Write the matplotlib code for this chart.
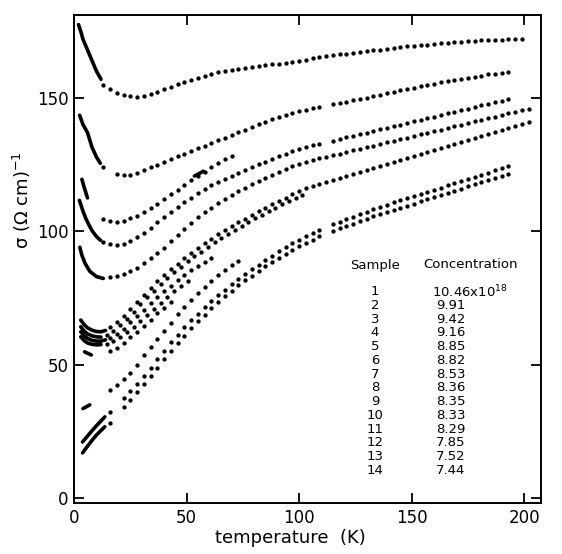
import numpy as np
import matplotlib.pyplot as plt

# Temperaturgitter der Messpunkte (K)
T_GRID = [13, 16, 19, 22, 25, 28, 31, 34, 37, 40, 43, 46, 49, 52, 55, 58, 61, 64, 67, 70,
          73, 76, 79, 82, 85, 88, 91, 94, 97, 100, 103, 106, 109, 112, 115, 118, 121, 124,
          127, 130, 133, 136, 139, 142, 145, 148, 151, 154, 157, 160, 163, 166, 169, 172,
          175, 178, 181, 184, 187, 190, 193, 196, 199, 202]
T_HALF = [14.5, 17.5, 20.5, 23.5, 26.5, 29.5, 32.5, 35.5, 38.5, 41.5, 44.5, 47.5, 50.5,
          53.5, 56.5, 59.5, 62.5, 65.5, 68.5, 71.5, 74.5, 77.5, 80.5, 83.5, 86.5, 89.5,
          92.5, 95.5, 98.5, 101.5]

# Probe 1
s1_lo_T = [2, 3, 4, 6, 8, 10, 12]
s1_lo = [177.5, 175, 172, 168, 164, 160, 157]
s1 = [155, 153.3, 152, 151.2, 150.7, 150.5, 150.7, 151.3, 152.2, 153.2, 154.2, 155.2, 156,
      156.8, 157.6, 158.3, 159, 159.6, 160.1, 160.6, 161, 161.4, 161.7, 162, 162.3, 162.6,
      162.9, 163.2, 163.6, 164, 164.4, 164.8, 165.2, 165.6, 166, 166.3, 166.6, 166.9, 167.2,
      167.5, 167.8, 168.1, 168.4, 168.7, 169, 169.3, 169.6, 169.8, 170, 170.3, 170.5, 170.7,
      170.9, 171.1, 171.3, 171.5, 171.6, 171.7, 171.8, 171.9, 172, 172.1, 172.2]
# Probe 2
s2_lo_T = [2.5, 4, 6, 8, 10, 11.7]
s2_lo = [143.5, 140, 137, 131.5, 127.8, 125.5]
s2 = [124, None, 121.5, 121, 121.2, 122, 123, 124, 125, 126,
      127.1, 128.1, 129.1, 130.1, 131.1, 132.1, 133.1, 134.1, 135.1, 136.1,
      137.1, 138.1, 139.1, 140.1, 141.1, 142, 142.9, 143.7, 144.4, 145,
      145.6, 146.1, 146.6, None, 147.6, 148.1, 148.6, 149.1, 149.6, 150.1,
      150.6, 151.2, 151.7, 152.3, 152.8, 153.3, 153.8, 154.3, 154.8, 155.3,
      155.8, 156.3, 156.8, 157.2, 157.6, 158, 158.4, 158.8, 159.1, 159.4, 159.7]
# Probe 3
s3_lo_T = [3.5, 4.5, 6]
s3_lo = [119.5, 116.5, 112.5]
s3_dash_T = [53.5, 55.5, 57.5]
s3_dash = [120.7, 121.6, 122.5]
s3 = [104.5, 103.7, 103.5, 104, 104.8, 105.9, 107.2, 108.7, 110.3, 112,
      113.8, 115.6, 117.4, 119.1, 120.8, 122.4, 124, 125.5, 127, 128.4]
# Probe 4
s4_lo_T = [2.4, 4, 5.3, 7, 8.2, 10, 11.8]
s4_lo = [111.6, 107.5, 104.7, 101.8, 100, 98, 96.6]
s4 = [96, 95.2, 94.9, 95.3, 96.3, 97.8, 99.5, 101.3, 103.3, 105.5,
      107.4, 109.2, 110.8, 112.6, 114.3, 115.8, 117.2, 118.5, 119.7, 120.9,
      122, 123.1, 124.1, 125.1, 126.1, 127.1, 128.1, 129.1, 130, 130.9,
      131.6, 132.2, 132.8, None, 134, 134.6, 135.2, 135.8, 136.4, 137,
      137.6, 138.2, 138.8, 139.4, 140, 140.6, 141.2, 141.8, 142.4, 143,
      143.6, 144.2, 144.8, 145.4, 146, 146.6, 147.2, 147.8, 148.4, 149, 149.5]
# Probe 5
s5_lo_T = [2.6, 3.5, 4.9, 7, 10, 13]
s5_lo = [94, 91, 88, 85, 83, 82.3]
s5 = [82.7, 83.3, 84.1, 85.1, 86.4, 88, 89.8, 91.7, 93.8, 96.2,
      98.6, 100.9, 103.1, 105.2, 107.1, 108.9, 110.6, 112.2, 113.7, 115.1,
      116.4, 117.6, 118.8, 120, 121.1, 122.2, 123.3, 124.4, 125.4, 126.1,
      126.7, 127.3, 127.9, 128.5, 129.1, 129.7, 130.3, 130.9, 131.5, 132.1,
      132.7, 133.3, 133.9, 134.5, 135.1, 135.7, 136.3, 136.9, 137.5, 138.1,
      138.8, 139.4, 140, 140.6, 141.2, 141.8, 142.4, 143, 143.6, 144.2,
      144.8, 145.4, 146]
# Probe 6
s6_lo_T = [3, 4.5, 6, 8, 10, 12, 14]
s6_lo = [66.7, 65, 63.8, 62.9, 62.4, 62.3, 62.8]
s6 = [64, 65.8, 68.2, 70.8, 73.5, 76.2, 78.7, 81.2, 83.5, 85.8,
      87.9, 90, 91.9, 93.8, 95.5, 97.2, 98.8, 100.3, 101.8, 103.3,
      104.7, 106.1, 107.5, 108.8, 110.1, 111.4, 112.6, 113.8, 115, 116.1,
      117, 117.7, 118.4, 119.2, 119.9, 120.7, 121.4, 122.2, 122.9, 123.7,
      124.4, 125.2, 125.9, 126.7, 127.4, 128.2, 128.9, 129.7, 130.4, 131.2,
      131.9, 132.7, 133.4, 134.1, 134.9, 135.6, 136.4, 137.1, 137.9, 138.6,
      139.4, 140.1, 140.8]
# Probe 7
s7_lo_T = [3, 4.5, 6, 8, 10, 12]
s7_lo = [64.2, 62.6, 61.5, 60.8, 60.4, 60.3]
s7 = [61, 62.6, 64.7, 67.2, 69.9, 72.6, 75.2, 77.7, 80.1, 82.4, 84.6, 86.7, 88.7, 90.6,
      92.4, 94.1, 95.8, 97.4, 99, 100.5, 102, 103.4, 104.8, 106.2, 107.5, 108.8, 110.1,
      111.3, 112.5, 113.7]
# Probe 8
s8_lo_T = [3, 4.5, 6, 8, 10, 12, 14]
s8_lo = [62.3, 60.8, 59.8, 59.1, 58.8, 58.8, 59.3]
s8 = [60, 61.5, 63.5, 65.8, 68.2, 70.6, 73, 75.3, 77.5, 79.6, 81.6, 83.5, 85.3, 87,
      88.6, 90.1]
# Probe 9
s9_lo_T = [3, 4.5, 6, 8, 10, 12]
s9_lo = [60.4, 59, 58.1, 57.6, 57.4, 57.5]
s9 = [57.8, 58.8, 60.3, 62.1, 64.2, 66.4, 68.7, 71, 73.2, 75.4, 77.5, 79.5, 81.4]
# Probe 10
s10_lo_T = [4.7, 6.2, 7.7]
s10_lo = [54.8, 54.2, 53.6]
s10 = [55, 56.4, 58.2, 60.2, 62.4, 64.6, 66.9, 69.2, 71.4, 73.6]
# Probe 11
s11_lo_T = [4, 5.5, 7]
s11_lo = [33.5, 34.2, 34.9]
s11 = [40.3, 42.3, 44.5, 47, 50, 53.5, 56.5, 59.5, 62.5, 65.6,
       68.8, 71.6, 74.2, 76.8, 79.2, 81.4, 83.5, 85.4, 87.2, 88.8]
# Probe 12
s12_lo_T = [3.8, 6, 8, 10, 12, 13.7]
s12_lo = [21, 23.2, 25.2, 27.1, 28.9, 30.4]
s12 = [32.3, None, 37.5, 40, 42.8, 45.7, 48.8, 52, 55.2, 58.3,
       61.2, 64, 66.6, 69.1, 71.5, 73.8, 76, 78.1, 80.1, 82,
       83.9, 85.7, 87.5, 89.2, 90.9, 92.5, 94, 95.5, 96.9, 98.2,
       99.4, 100.5, None, 102.6, 103.6, 104.6, 105.5, 106.4, 107.3, 108.2,
       109.1, 110, 110.8, 111.6, 112.4, 113.2, 114, 114.8, 115.6, 116.4,
       117.2, 118, 118.8, 119.6, 120.4, 121.2, 122, 122.8, 123.6, 124.4]
# Probe 13
s13_lo_T = [3.8, 6, 8, 10, 12, 13.7]
s13_lo = [16.9, 19.4, 21.6, 23.6, 25.3, 26.7]
s13 = [28.2, None, 34, 36.7, 39.6, 42.6, 45.7, 48.9, 52, 55,
       58, 60.9, 63.6, 66.2, 68.7, 71.1, 73.4, 75.6, 77.7, 79.7,
       81.6, 83.4, 85.1, 86.8, 88.4, 90, 91.5, 92.9, 94.3, 95.6,
       96.9, 98.1, None, 100.2, 101.1, 102, 102.9, 103.8, 104.7, 105.6,
       106.4, 107.2, 108, 108.8, 109.6, 110.4, 111.2, 112, 112.8, 113.6,
       114.4, 115.2, 116, 116.8, 117.6, 118.4, 119.2, 120, 120.8, 121.6]

# Tabelle
samples = ['1', '2', '3', '4', '5', '6', '7', '8', '9', '10', '11', '12', '13', '14']
conc = [r'10.46x10$^{18}$', '9.91', '9.42', '9.16', '8.85', '8.82', '8.53', '8.36',
        '8.35', '8.33', '8.29', '7.85', '7.52', '7.44']

W, H = 562, 554
fig = plt.figure(figsize=(W / 100, H / 100), dpi=100)
ax = fig.add_axes([74 / W, 1 - 503 / H, 467 / W, 488 / H])

def lo(t, s):
    ax.plot(t, s, '-', color='k', lw=2.6, solid_capstyle='round')

def dots(grid, t0, s):
    i = grid.index(t0)
    t = np.array(grid[i:i + len(s)], dtype=float)
    ax.plot(t, np.array(s, dtype=float), 'o', ms=3.1, color='k', mec='none')

lo(s1_lo_T, s1_lo); dots(T_GRID, 13, s1)
lo(s2_lo_T, s2_lo); dots(T_GRID, 13, s2)
lo(s3_lo_T, s3_lo); lo(s3_dash_T, s3_dash); dots(T_GRID, 13, s3)
lo(s4_lo_T, s4_lo); dots(T_GRID, 13, s4)
lo(s5_lo_T, s5_lo); dots(T_GRID, 16, s5)
lo(s6_lo_T, s6_lo); dots(T_GRID, 16, s6)
lo(s7_lo_T, s7_lo); dots(T_HALF, 14.5, s7)
lo(s8_lo_T, s8_lo); dots(T_GRID, 16, s8)
lo(s9_lo_T, s9_lo); dots(T_HALF, 14.5, s9)
lo(s10_lo_T, s10_lo); dots(T_GRID, 16, s10)
lo(s11_lo_T, s11_lo); dots(T_GRID, 16, s11)
lo(s12_lo_T, s12_lo); dots(T_GRID, 16, s12)
lo(s13_lo_T, s13_lo); dots(T_GRID, 16, s13)

ax.set_xlim(0, 207.5)
ax.set_ylim(-1.9, 181.1)
ax.set_xticks([0, 50, 100, 150, 200])
ax.set_yticks([0, 50, 100, 150])
ax.tick_params(direction='in', length=7, width=1.3, top=True, right=True,
               labelsize=12, pad=4)
for sp in ax.spines.values():
    sp.set_linewidth(1.4)

fig.text(290 / W, 1 - 538 / H, 'temperature  (K)', fontsize=13, ha='center', va='center')
fig.text(22 / W, 1 - 200 / H, r'σ (Ω cm)$^{-1}$', fontsize=13, rotation=90,
         ha='center', va='center')

# Tabelle Probe / Konzentration
fig.text(375 / W, 1 - 265 / H, 'Sample', fontsize=9.5, ha='center', va='center')
fig.text(423 / W, 1 - 265 / H, 'Concentration', fontsize=9.5, ha='left', va='center')
for k in range(len(samples)):
    y = 291.7 + 13.75 * k
    fig.text(375 / W, 1 - y / H, samples[k], fontsize=9.5, ha='center', va='center')
    x0 = 432 if k == 0 else 436
    fig.text(x0 / W, 1 - y / H, conc[k], fontsize=9.5, ha='left', va='center')

fig.savefig('out.png', dpi=100)
